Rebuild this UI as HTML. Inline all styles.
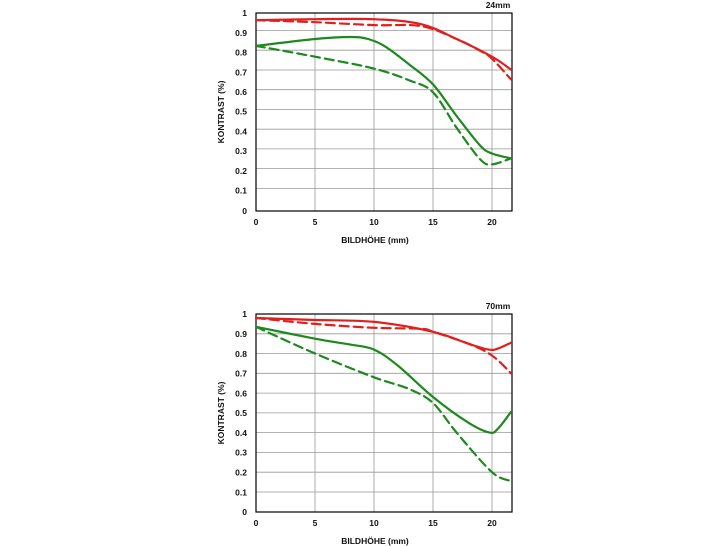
<!DOCTYPE html>
<html><head><meta charset="utf-8"><style>
html,body{margin:0;padding:0;background:#fff;}
svg{display:block;font-family:"Liberation Sans",sans-serif;}
</style></head><body>
<svg id="s" width="728" height="546" viewBox="0 0 728 546">
<!-- TOP CHART -->
<g stroke="#999" stroke-width="0.8">
<line x1="256" y1="30.5" x2="512" y2="30.5"/><line x1="256" y1="50.2" x2="512" y2="50.2"/>
<line x1="256" y1="70" x2="512" y2="70"/><line x1="256" y1="89.7" x2="512" y2="89.7"/>
<line x1="256" y1="109.4" x2="512" y2="109.4"/><line x1="256" y1="129.2" x2="512" y2="129.2"/>
<line x1="256" y1="148.9" x2="512" y2="148.9"/><line x1="256" y1="168.6" x2="512" y2="168.6"/>
<line x1="256" y1="188.4" x2="512" y2="188.4"/>
<line x1="315" y1="13" x2="315" y2="211"/><line x1="374" y1="13" x2="374" y2="211"/>
<line x1="433" y1="13" x2="433" y2="211"/><line x1="492" y1="13" x2="492" y2="211"/>
</g>
<rect x="256" y="13" width="256" height="198" fill="none" stroke="#000" stroke-width="1.2"/>
<g fill="none" stroke-width="2.2" stroke-linejoin="round" stroke-linecap="round">
<polyline class="c" stroke="#e0201e" points="256,20.2 315,19.2 374,19.2 421.2,24.2 456.6,39 492,56.7 511,69.6"/>
<polyline class="c" stroke="#e0201e" stroke-dasharray="9,5" points="256,20.2 315,22.2 374,25.1 421.2,26.1 456.6,39 480.2,50.8 492,58.7 511,79.4"/>
<polyline class="c" stroke="#1e8a1e" points="256,45.9 315,39 350.4,37 368.1,39 385.8,46.9 409.4,64.6 433,84.4 456.6,116 480.2,145.6 492,153.5 511,158.4"/>
<polyline class="c" stroke="#1e8a1e" stroke-dasharray="9,5" points="256,45.9 315,56.7 374,68.6 409.4,80.4 433,92.3 456.6,127.8 480.2,159.4 492,164.3 511,158.4"/>
</g>
<g font-size="8.5" font-weight="bold" fill="#111" text-anchor="end">
<text x="247" y="16">1</text><text x="247" y="36">0.9</text><text x="247" y="55.5">0.8</text>
<text x="247" y="75.3">0.7</text><text x="247" y="95">0.6</text><text x="247" y="114.7">0.5</text>
<text x="247" y="134.5">0.4</text><text x="247" y="154.2">0.3</text><text x="247" y="174">0.2</text>
<text x="247" y="193.7">0.1</text><text x="247" y="214">0</text>
</g>
<g font-size="8.5" font-weight="bold" fill="#111" text-anchor="middle">
<text x="256" y="225">0</text><text x="315" y="225">5</text><text x="374" y="225">10</text>
<text x="433" y="225">15</text><text x="492" y="225">20</text>
<text x="375" y="243">BILDHÖHE (mm)</text>
<text x="498" y="8">24mm</text>
<text transform="translate(224,112) rotate(-90)">KONTRAST (%)</text>
</g>

<!-- BOTTOM CHART -->
<g stroke="#999" stroke-width="0.8">
<line x1="256" y1="333.8" x2="512" y2="333.8"/><line x1="256" y1="353.5" x2="512" y2="353.5"/>
<line x1="256" y1="373.3" x2="512" y2="373.3"/><line x1="256" y1="393.1" x2="512" y2="393.1"/>
<line x1="256" y1="412.9" x2="512" y2="412.9"/><line x1="256" y1="432.6" x2="512" y2="432.6"/>
<line x1="256" y1="452.4" x2="512" y2="452.4"/><line x1="256" y1="472.2" x2="512" y2="472.2"/>
<line x1="256" y1="492" x2="512" y2="492"/>
<line x1="315" y1="314" x2="315" y2="512"/><line x1="374" y1="314" x2="374" y2="512"/>
<line x1="433" y1="314" x2="433" y2="512"/><line x1="492" y1="314" x2="492" y2="512"/>
</g>
<rect x="256" y="314" width="256" height="198" fill="none" stroke="#000" stroke-width="1.2"/>
<g fill="none" stroke-width="2.2" stroke-linejoin="round" stroke-linecap="round">
<polyline class="c" stroke="#e0201e" points="256,318 315,320 374,321.9 433,331.8 468.4,343.7 488.5,349.6 497.9,348.6 511,342.7"/>
<polyline class="c" stroke="#e0201e" stroke-dasharray="9,5" points="256,318 315,323.9 374,327.8 421.2,328.8 433,331.8 468.4,343.7 492,355.5 511,373.3"/>
<polyline class="c" stroke="#1e8a1e" points="256,326.8 315,338.7 350.4,344.6 374,349.6 397.6,365.4 433,397 468.4,422.7 489.6,432.6 497.9,428.7 511,411.9"/>
<polyline class="c" stroke="#1e8a1e" stroke-dasharray="9,5" points="256,326.8 315,353.5 374,377.3 409.4,389.1 433,403 456.6,432.6 492,472.2 511,481.1"/>
</g>
<g font-size="8.5" font-weight="bold" fill="#111" text-anchor="end">
<text x="247" y="317">1</text><text x="247" y="337">0.9</text><text x="247" y="356.8">0.8</text>
<text x="247" y="376.6">0.7</text><text x="247" y="396.4">0.6</text><text x="247" y="416.2">0.5</text>
<text x="247" y="435.9">0.4</text><text x="247" y="455.7">0.3</text><text x="247" y="475.5">0.2</text>
<text x="247" y="495.3">0.1</text><text x="247" y="515">0</text>
</g>
<g font-size="8.5" font-weight="bold" fill="#111" text-anchor="middle">
<text x="256" y="526">0</text><text x="315" y="526">5</text><text x="374" y="526">10</text>
<text x="433" y="526">15</text><text x="492" y="526">20</text>
<text x="375" y="544">BILDHÖHE (mm)</text>
<text x="498" y="309">70mm</text>
<text transform="translate(224,413) rotate(-90)">KONTRAST (%)</text>
</g>
</svg>
<script>
(function(){
var ns="http://www.w3.org/2000/svg";
var pls=document.querySelectorAll("polyline.c");
for(var k=0;k<pls.length;k++){
 var pl=pls[k];
 var p=pl.getAttribute("points").trim().split(/\s+/).map(function(s){var a=s.split(",");return [+a[0],+a[1]];});
 var d="M"+p[0][0]+","+p[0][1];
 for(var i=0;i<p.length-1;i++){
  var p0=p[i-1]||p[i],p1=p[i],p2=p[i+1],p3=p[i+2]||p2;
  var c1=[p1[0]+(p2[0]-p0[0])/6,p1[1]+(p2[1]-p0[1])/6];
  var c2=[p2[0]-(p3[0]-p1[0])/6,p2[1]-(p3[1]-p1[1])/6];
  d+=" C"+c1[0].toFixed(1)+","+c1[1].toFixed(1)+" "+c2[0].toFixed(1)+","+c2[1].toFixed(1)+" "+p2[0]+","+p2[1];
 }
 var path=document.createElementNS(ns,"path");
 path.setAttribute("d",d);
 path.setAttribute("stroke",pl.getAttribute("stroke"));
 if(pl.getAttribute("stroke-dasharray"))path.setAttribute("stroke-dasharray",pl.getAttribute("stroke-dasharray"));
 pl.parentNode.replaceChild(path,pl);
}
})();
</script>
</body></html>
